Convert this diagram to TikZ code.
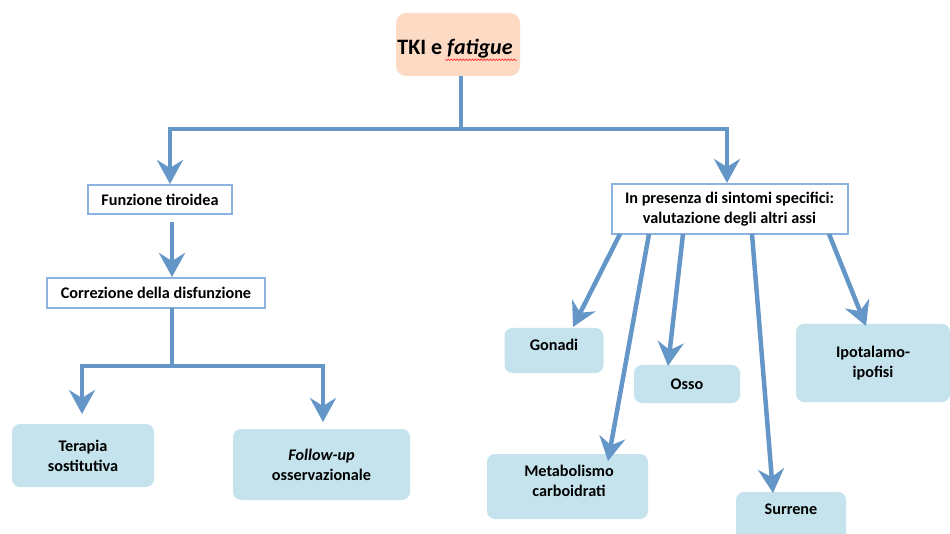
\documentclass[tikz,border=0pt]{standalone}
\usepackage{fontspec}
\setmainfont{Carlito}
\usetikzlibrary{arrows.meta,decorations.pathmorphing}
\definecolor{arrowblue}{RGB}{100,150,200}
\definecolor{boxline}{RGB}{140,178,222}
\definecolor{tealfill}{RGB}{196,227,236}
\definecolor{peach}{RGB}{252,218,196}
\tikzset{
  conn/.style={draw=arrowblue, line width=4.5pt},
  arr/.style={conn, -{Stealth[length=24pt, width=26pt, inset=8pt]}},
  topbox/.style={fill=peach, rounded corners=10pt, inner sep=0pt},
  whitebox/.style={draw=boxline, line width=2pt, fill=white, inner sep=0pt, align=center, font=\fontsize{16.2}{20}\selectfont\bfseries},
  tealbox/.style={fill=tealfill, rounded corners=8pt, inner sep=0pt, align=center, font=\fontsize{16.2}{20}\selectfont\bfseries},
  label/.style={inner sep=0pt, align=center, font=\fontsize{16.2}{20}\selectfont\bfseries}
}
\begin{document}
\begin{tikzpicture}[x=1pt,y=-1pt]
\useasboundingbox (0,0) rectangle (950,534);
\clip (0,0) rectangle (950,534);
% nodes
\node[topbox, minimum width=124pt, minimum height=63pt] (top) at (458,44.5) {};
\node[inner sep=0pt, font=\fontsize{22}{26}\selectfont\bfseries] (toptext) at (455,49) {TKI e \textit{fatigue}};
\draw[red!85, line width=0.6pt, decorate, decoration={snake, amplitude=0.8pt, segment length=3pt}] (toptext.south east) ++(4,1) coordinate (sqe) (sqe) -- ++(-72,0);
\node[whitebox, minimum width=144pt, minimum height=29pt] (fun) at (160,199.5) {Funzione tiroidea};
\node[whitebox, minimum width=218pt, minimum height=30pt] (cor) at (156,293) {Correzione della disfunzione};
\node[whitebox, minimum width=236pt, minimum height=50pt] (inp) at (729.5,209.5) {In presenza di sintomi specifici:\\valutazione degli altri assi};
\node[tealbox, minimum width=142pt, minimum height=63pt] (ter) at (83,455.5) {Terapia\\sostitutiva};
\node[tealbox, minimum width=177pt, minimum height=71pt] (fol) at (321.5,464.5) {\textit{Follow-up}\\osservazionale};
\node[tealbox, minimum width=99pt, minimum height=45pt] (gon) at (554,350.5) {};
\node[label] (gont) at (554,345) {Gonadi};
\node[tealbox, minimum width=106pt, minimum height=38pt] (oss) at (687,384) {Osso};
\node[tealbox, minimum width=154pt, minimum height=78pt] (ipo) at (873,363) {Ipotalamo-\\ipofisi};
\node[tealbox, minimum width=161pt, minimum height=65pt] (met) at (567.5,486.5) {};
\node[label] (mett) at (569,481) {Metabolismo\\carboidrati};
\node[tealbox, minimum width=110pt, minimum height=53pt] (sur) at (791,518.5) {};
\node[label] (surt) at (791,509) {Surrene};
% coordinates
\coordinate (j1) at (461,129);
\coordinate (tfun) at (170,184);
\coordinate (tinp) at (727,183);
\coordinate (s2) at (172,222);
\coordinate (tcor) at (172,277);
\coordinate (s3) at (172,308);
\coordinate (j2) at (172,366);
\coordinate (tter) at (82,414);
\coordinate (tfol) at (323,422);
\coordinate (sg) at (620,234);
\coordinate (tg) at (573,327);
\coordinate (sm) at (649,234);
\coordinate (tm) at (608,461);
\coordinate (so) at (683,234);
\coordinate (to) at (668,366);
\coordinate (ss) at (752,234);
\coordinate (ts) at (773,493);
\coordinate (si) at (829,234);
\coordinate (ti) at (866,326);
% connectors
\draw[conn] (top.south -| j1) -- (j1);
\draw[arr] (j1) -| (tfun);
\draw[arr] (j1) -| (tinp);
\draw[arr] (s2) -- (tcor);
\draw[conn] (s3) -- (j2);
\draw[arr] (j2) -| (tter);
\draw[arr] (j2) -| (tfol);
\draw[arr] (sg) -- (tg);
\draw[arr] (sm) -- (tm);
\draw[arr] (so) -- (to);
\draw[arr] (ss) -- (ts);
\draw[arr] (si) -- (ti);
\end{tikzpicture}
\end{document}
